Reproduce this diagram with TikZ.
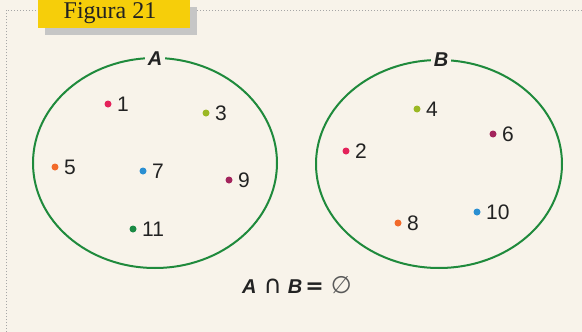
\documentclass[tikz,border=0pt]{standalone}
\usepackage{fontspec}
\setmainfont{Liberation Sans}
\newfontfamily\figfont{Liberation Serif}
\newfontfamily\symfont{DejaVu Sans}
\definecolor{bgc}{HTML}{F8F3EA}
\definecolor{ringc}{HTML}{1F8A3C}
\definecolor{crim}{HTML}{E4225A}
\definecolor{ygreen}{HTML}{9BB824}
\definecolor{orng}{HTML}{F26A2A}
\definecolor{bluec}{HTML}{2A8FD2}
\definecolor{magc}{HTML}{A3245C}
\definecolor{grnc}{HTML}{1A8A44}
\definecolor{yel}{HTML}{F6CE0A}
\definecolor{txtc}{HTML}{222222}
\tikzset{
  dot/.style={circle,fill=#1,inner sep=0pt,minimum size=7pt},
  num/.style={anchor=west,inner sep=0pt,text=txtc,font=\fontsize{21}{24}\selectfont},
  setname/.style={fill=bgc,inner sep=3pt,text=txtc,font=\fontsize{20}{24}\selectfont\bfseries\itshape},
  ring/.style={draw=ringc,line width=2pt},
}
\begin{document}
\begin{tikzpicture}[x=1pt,y=-1pt]
\fill[bgc] (0,0) rectangle (582,332);
\useasboundingbox (0,0) rectangle (582,332);
% frame
\draw[gray!70,line width=1pt,dotted] (6,332) -- (6,10) -- (582,10);
% title tab
\fill[gray!45] (45,7) rectangle (197,35);
\node[fill=yel,minimum width=152pt,minimum height=29pt,inner sep=0pt,anchor=north west] (tab) at (38,-1) {};
\node[font=\figfont\fontsize{24}{26}\selectfont,text=txtc,anchor=base] (title) at (110,19) {Figura 21};
% sets
\draw[ring] (155,163) ellipse [x radius=122,y radius=105];
\draw[ring] (439,164) ellipse [x radius=123,y radius=104];
\node[setname] (A) at (155,59) {A};
\node[setname] (B) at (441,60) {B};
% elements of A
\node[dot=crim] (d1) at (108,104) {};  \node[num] (n1) at (117,104) {1};
\node[dot=ygreen] (d3) at (206,113) {}; \node[num] (n3) at (215,113) {3};
\node[dot=orng] (d5) at (55,167) {};   \node[num] (n5) at (64,167) {5};
\node[dot=bluec] (d7) at (143,171) {}; \node[num] (n7) at (152,171) {7};
\node[dot=magc] (d9) at (229,180) {};  \node[num] (n9) at (238,180) {9};
\node[dot=grnc] (d11) at (133,229) {}; \node[num] (n11) at (142,229) {11};
% elements of B
\node[dot=ygreen] (d4) at (417,109) {}; \node[num] (n4) at (426,109) {4};
\node[dot=magc] (d6) at (493,134) {};   \node[num] (n6) at (502,134) {6};
\node[dot=crim] (d2) at (346,151) {};   \node[num] (n2) at (355,151) {2};
\node[dot=orng] (d8) at (398,223) {};   \node[num] (n8) at (407,223) {8};
\node[dot=bluec] (d10) at (477,212) {}; \node[num] (n10) at (486,212) {10};
% equation
\node[text=txtc,font=\fontsize{20}{24}\selectfont,inner sep=0pt,anchor=west] (eq) at (242,285)
  {\textbf{\textit{A}}\hspace{7pt}{\symfont\fontsize{25}{26}\selectfont ∩}\hspace{6pt}\textbf{\textit{B}}\hspace{3pt}{\symfont\bfseries\fontsize{22}{26}\selectfont =}\hspace{7pt}{\symfont\fontsize{24}{26}\selectfont\color{txtc!75}∅}};
\end{tikzpicture}
\end{document}
